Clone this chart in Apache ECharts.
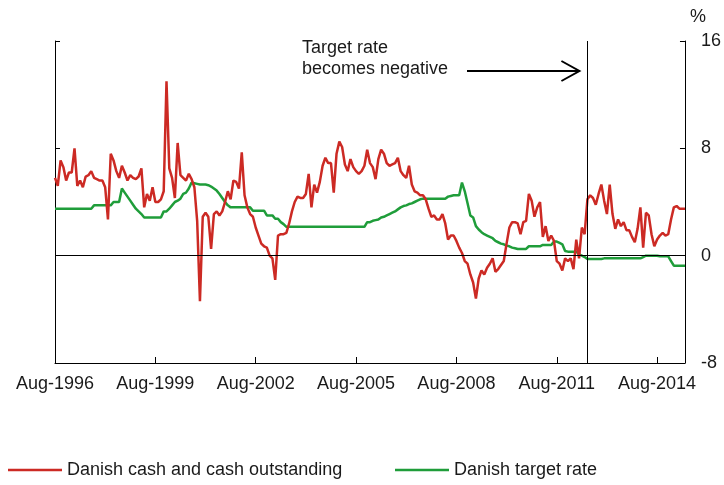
<!DOCTYPE html>
<html>
<head>
<meta charset="utf-8">
<script src="https://cdn.jsdelivr.net/npm/echarts@6/dist/echarts.min.js"></script>
<style>
html,body{margin:0;padding:0;background:#fff;}
#chart{width:724px;height:485px;}
</style>
</head>
<body>
<div id="chart"></div>
<script>
// Monthly categories: Aug-1996 .. Jun-2015
var monthNames = ['Jan','Feb','Mar','Apr','May','Jun','Jul','Aug','Sep','Oct','Nov','Dec'];
var startYear = 1996, startMonth = 7, monthCount = 227;
var categories = [];
for (var k = 0; k < monthCount; k++) {
  var m = startMonth + k;
  categories.push(monthNames[m % 12] + '-' + (startYear + Math.floor(m / 12)));
}

var cashSeries = [
  5.8, 5.2, 7.1, 6.6, 5.6, 6.2, 6.2, 8.0, 5.2, 5.6,
  5.1, 5.9, 6.0, 6.3, 5.8, 5.7, 5.6, 5.6, 5.1, 2.7,
  7.6, 7.1, 6.3, 5.8, 6.7, 6.2, 5.6, 6.0, 5.8, 5.7,
  5.9, 6.5, 3.6, 4.6, 4.1, 5.1, 4.0, 4.0, 4.2, 4.8,
  13.0, 6.5, 5.8, 4.3, 8.4, 6.0, 5.8, 5.6, 6.1, 5.7,
  5.1, 2.6, -3.4, 2.9, 3.2, 2.9, 0.5, 3.1, 3.3, 3.0,
  3.3, 4.0, 4.8, 4.2, 5.6, 5.5, 5.0, 7.7, 4.5, 3.6,
  3.1, 2.9, 2.1, 1.5, 0.9, 0.7, 0.6, 0.0, -0.2, -1.8,
  1.5, 1.6, 1.6, 1.7, 2.4, 3.3, 4.0, 4.4, 4.3, 4.3,
  4.6, 6.1, 3.6, 5.3, 4.7, 5.5, 6.7, 7.3, 6.9, 6.9,
  4.7, 7.6, 8.5, 8.1, 6.8, 6.3, 7.2, 6.6, 6.3, 6.1,
  6.3, 6.7, 7.9, 6.9, 6.6, 5.7, 7.2, 7.9, 7.6, 6.9,
  6.7, 6.8, 6.9, 7.3, 6.3, 6.0, 5.8, 6.7, 5.3, 4.8,
  4.7, 4.5, 4.5, 4.2, 3.5, 2.9, 3.0, 2.7, 2.7, 3.1,
  2.4, 1.2, 1.5, 1.5, 1.1, 0.6, 0.2, -0.4, -0.6, -1.4,
  -2.0, -3.2, -1.7, -1.1, -1.4, -0.9, -0.6, -0.2, -1.2, -1.0,
  -0.7, -0.4, 0.9, 2.1, 2.5, 2.5, 2.4, 1.6, 2.5, 2.6,
  4.6, 4.1, 2.9, 3.6, 4.0, 1.4, 2.2, 1.1, 1.5, 1.1,
  -0.4, -0.6, -1.1, -0.2, -0.4, -0.2, -1.0, 1.2, -0.2, 2.1,
  1.6, 4.2, 4.5, 4.3, 3.8, 4.6, 5.3, 4.1, 3.1, 5.3,
  3.1, 2.0, 2.7, 2.2, 2.5, 1.9, 1.9, 1.4, 1.0, 2.0,
  3.6, 0.6, 3.2, 3.0, 1.6, 0.7, 1.2, 1.5, 1.7, 1.5,
  1.6, 2.7, 3.6, 3.7, 3.5, 3.5, 3.5
];

var targetRate = [
  3.5, 3.5, 3.5, 3.5, 3.5, 3.5, 3.5, 3.5, 3.5, 3.5,
  3.5, 3.5, 3.5, 3.5, 3.75, 3.75, 3.75, 3.75, 3.75, 3.75,
  3.75, 4.0, 4.0, 4.0, 5.0, 4.7, 4.4, 4.1, 3.8, 3.5,
  3.3, 3.1, 2.85, 2.85, 2.85, 2.85, 2.85, 2.85, 2.85, 3.3,
  3.3, 3.5, 3.75, 4.0, 4.1, 4.25, 4.6, 4.7, 5.0, 5.45,
  5.4, 5.35, 5.3, 5.3, 5.3, 5.25, 5.15, 5.0, 4.85, 4.6,
  4.3, 4.0, 3.75, 3.6, 3.6, 3.6, 3.6, 3.6, 3.6, 3.6,
  3.6, 3.35, 3.35, 3.35, 3.35, 3.35, 3.0, 3.0, 3.0, 2.75,
  2.75, 2.5, 2.35, 2.15, 2.15, 2.15, 2.15, 2.15, 2.15, 2.15,
  2.15, 2.15, 2.15, 2.15, 2.15, 2.15, 2.15, 2.15, 2.15, 2.15,
  2.15, 2.15, 2.15, 2.15, 2.15, 2.15, 2.15, 2.15, 2.15, 2.15,
  2.15, 2.15, 2.5, 2.5, 2.6, 2.65, 2.7, 2.85, 2.9, 3.0,
  3.1, 3.2, 3.3, 3.45, 3.6, 3.7, 3.75, 3.85, 3.9, 4.0,
  4.1, 4.2, 4.25, 4.25, 4.25, 4.25, 4.25, 4.25, 4.25, 4.25,
  4.25, 4.4, 4.45, 4.5, 4.5, 4.5, 5.45, 4.8, 3.9, 3.0,
  2.85, 2.2, 1.95, 1.75, 1.6, 1.5, 1.4, 1.3, 1.1, 1.0,
  0.9, 0.85, 0.75, 0.7, 0.6, 0.55, 0.5, 0.5, 0.5, 0.5,
  0.7, 0.7, 0.7, 0.7, 0.7, 0.8, 0.8, 0.8, 0.8, 1.05,
  1.05, 0.95, 0.85, 0.35, 0.3, 0.3, 0.3, 0.3, 0.1, 0.0,
  -0.1, -0.25, -0.25, -0.25, -0.25, -0.25, -0.25, -0.2, -0.2, -0.2,
  -0.2, -0.2, -0.2, -0.2, -0.2, -0.2, -0.2, -0.2, -0.2, -0.2,
  -0.2, -0.1, 0.0, 0.0, 0.0, 0.0, 0.0, -0.05, -0.05, -0.05,
  -0.05, -0.4, -0.75, -0.75, -0.75, -0.75, -0.75
];

var yTicks = { min: -8, max: 16, interval: 8 };
var eventMonth = 'Jul-2012';
var annotationText = 'Target rate\nbecomes negative';
var seriesNames = ['Danish cash and cash outstanding', 'Danish target rate'];

var FONT = 'Liberation Sans, Arial, sans-serif';
var TXT = '#1a1a1a';
var RED = '#cc2a24';
var GREEN = '#1f9d3a';

var chart = echarts.init(document.getElementById('chart'), null, { renderer: 'canvas' });

var yBase = {
  type: 'value',
  min: yTicks.min, max: yTicks.max, interval: yTicks.interval,
  axisLine: { show: true, onZero: false, lineStyle: { color: '#000', width: 1 } },
  axisTick: { show: true, inside: true, length: 5, lineStyle: { color: '#000' } },
  splitLine: { show: false }
};

var option = {
  animation: false,
  backgroundColor: '#fff',
  grid: { left: 55, right: 37, top: 41, bottom: 122, containLabel: false },
  xAxis: {
    type: 'category',
    data: categories,
    boundaryGap: false,
    axisLine: { show: true, onZero: false, lineStyle: { color: '#000', width: 1 } },
    axisTick: { show: true, inside: true, length: 6, interval: 35, lineStyle: { color: '#000' } },
    axisLabel: { interval: 35, margin: 12, fontSize: 18, fontFamily: FONT, color: TXT },
    splitLine: { show: false }
  },
  yAxis: [
    Object.assign({}, yBase, {
      position: 'right',
      axisLabel: { show: true, margin: 16, fontSize: 18, fontFamily: FONT, color: TXT, align: 'left' }
    }),
    Object.assign({}, yBase, {
      position: 'left',
      axisLabel: { show: false }
    })
  ],
  legend: [
    {
      data: [seriesNames[0]], left: 8, top: 461, padding: 0, icon: 'rect', itemWidth: 54, itemHeight: 2.5, itemGap: 5,
      textStyle: { fontSize: 18, fontFamily: FONT, color: TXT }
    },
    {
      data: [seriesNames[1]], left: 395, top: 461, padding: 0, icon: 'rect', itemWidth: 54, itemHeight: 2.5, itemGap: 5,
      textStyle: { fontSize: 18, fontFamily: FONT, color: TXT }
    }
  ],
  series: [
    {
      name: seriesNames[1], type: 'line', data: targetRate, yAxisIndex: 0,
      showSymbol: false, symbol: 'none', color: GREEN,
      lineStyle: { color: GREEN, width: 2.5 }, z: 3
    },
    {
      name: seriesNames[0], type: 'line', data: cashSeries, yAxisIndex: 0,
      showSymbol: false, symbol: 'none', color: RED,
      lineStyle: { color: RED, width: 2.5 }, z: 4,
      markLine: {
        silent: true, symbol: ['none', 'none'], animation: false,
        label: { show: false },
        lineStyle: { color: '#000', width: 1, type: 'solid' },
        emphasis: { disabled: true },
        data: [{ yAxis: 0 }, { xAxis: eventMonth }]
      }
    }
  ]
};
chart.setOption(option);

var vx = chart.convertToPixel({ xAxisIndex: 0 }, eventMonth);
var ay = 71;
chart.setOption({
  graphic: [
    { type: 'text', left: 302, top: 38, style: { text: annotationText, font: '18px ' + FONT, fill: TXT, lineHeight: 21 } },
    { type: 'text', left: 690, top: 8, style: { text: '%', font: '18px ' + FONT, fill: TXT } },
    { type: 'line', shape: { x1: 467, y1: ay, x2: vx - 8, y2: ay }, style: { stroke: '#000', lineWidth: 2 } },
    { type: 'polyline', shape: { points: [[vx - 26, ay - 10], [vx - 8, ay], [vx - 26, ay + 10]] }, style: { stroke: '#000', lineWidth: 2, fill: null } }
  ]
});
</script>
</body>
</html>
